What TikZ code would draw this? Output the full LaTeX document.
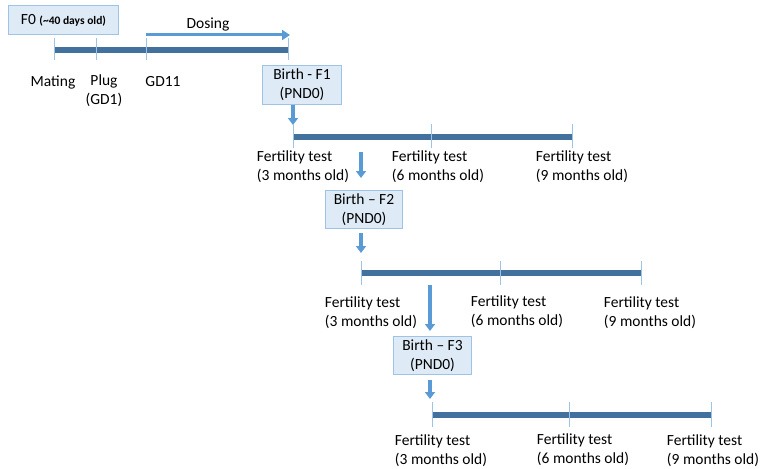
\documentclass[tikz,border=0pt]{standalone}
\usepackage{fontspec}
\setmainfont{Carlito}
\usetikzlibrary{arrows.meta}
\definecolor{bar}{HTML}{41719C}
\definecolor{arr}{HTML}{5B9BD5}
\definecolor{boxfill}{HTML}{DEEBF7}
\definecolor{boxline}{HTML}{9DC3E6}
\begin{document}
\begin{tikzpicture}[x=1pt,y=-1pt,
  every node/.style={font=\fontsize{15.5}{19}\selectfont, inner sep=0pt},
  bx/.style={draw=boxline, fill=boxfill, line width=1pt, align=center, anchor=north west},
  barline/.style={draw=bar, line width=6pt},
  tick/.style={draw=boxline, line width=0.8pt},
  darr/.style={draw=arr, line width=3.5pt, -{Triangle[width=10pt,length=7pt]}},
  lbl/.style={align=left, anchor=north west}]
\useasboundingbox (0,0) rectangle (770,468);
% ---- F0 timeline
\node[bx, minimum width=110pt, minimum height=29pt] (f0) at (8,5) {};
\node (f0t) at (f0.center) {F0 {\fontsize{11.5}{13}\selectfont\bfseries(\char"007E 40 days old)}};
\coordinate (a0) at (54,50); \coordinate (a1) at (96,50); \coordinate (a2) at (146,50); \coordinate (a3) at (288,50);
\draw[barline] (a0) -- (a3);
\foreach \c in {a0,a1,a2,a3} \draw[tick] ([yshift=-10pt]\c) -- ([yshift=12pt]\c);
\coordinate (ds) at (146,35); \coordinate (de) at (290,35);
\draw[draw=arr, line width=3pt, -{Triangle[width=10pt,length=8pt]}] (ds) -- (de);
\node (dos) at (208,25) {Dosing};
\node (mat) at (53,82) {Mating};
\node[align=center] (plug) at (104,91) {Plug\\(GD1)};
\node (gd) at (163,82) {GD11};
% ---- F1
\node[bx, minimum width=79pt, minimum height=39pt] (b1) at (262,65) {};
\node[align=center] at (b1.center) {Birth - F1\\(PND0)};
\coordinate (b1a) at (293,105); \coordinate (b1b) at (293,125);
\draw[darr] (b1a) -- (b1b);
\coordinate (c0) at (293,137); \coordinate (c1) at (431,137); \coordinate (c2) at (572,137);
\draw[barline] (c0) -- (c2);
\foreach \c in {c0,c1,c2} \draw[tick] ([yshift=-11pt]\c) -- ([yshift=13pt]\c);
\node[align=left] (t11) at (303,167) {Fertility test\\(3 months old)};
\node[align=left] (t12) at (438,167) {Fertility test\\(6 months old)};
\node[align=left] (t13) at (582,167) {Fertility test\\(9 months old)};
\coordinate (p1a) at (361,152); \coordinate (p1b) at (361,178);
\draw[darr] (p1a) -- (p1b);
% ---- F2
\node[bx, minimum width=77pt, minimum height=38pt] (b2) at (325,190) {};
\node[align=center] at (b2.center) {Birth -- F2\\(PND0)};
\coordinate (b2a) at (361,233); \coordinate (b2b) at (361,253);
\draw[darr] (b2a) -- (b2b);
\coordinate (d0) at (361,273); \coordinate (d1) at (500,273); \coordinate (d2) at (641,273);
\draw[barline] (d0) -- (d2);
\foreach \c in {d0,d1,d2} \draw[tick] ([yshift=-12pt]\c) -- ([yshift=12pt]\c);
\node[align=left] (t21) at (371,313) {Fertility test\\(3 months old)};
\node[align=left] (t22) at (517,312) {Fertility test\\(6 months old)};
\node[align=left] (t23) at (650,313) {Fertility test\\(9 months old)};
\coordinate (p2a) at (430,285); \coordinate (p2b) at (430,331);
\draw[darr] (p2a) -- (p2b);
% ---- F3
\node[bx, minimum width=78pt, minimum height=38pt] (b3) at (393,336) {};
\node[align=center] at (b3.center) {Birth -- F3\\(PND0)};
\coordinate (b3a) at (430,380); \coordinate (b3b) at (430,399);
\draw[darr] (b3a) -- (b3b);
\coordinate (e0) at (432,415); \coordinate (e1) at (569,415); \coordinate (e2) at (711,415);
\draw[barline] (e0) -- (e2);
\foreach \c in {e0,e1,e2} \draw[tick] ([yshift=-12pt]\c) -- ([yshift=13pt]\c);
\node[align=left] (t31) at (441,451) {Fertility test\\(3 months old)};
\node[align=left] (t32) at (583,450) {Fertility test\\(6 months old)};
\node[align=left] (t33) at (713,451) {Fertility test\\(9 months old)};
\end{tikzpicture}
\end{document}
